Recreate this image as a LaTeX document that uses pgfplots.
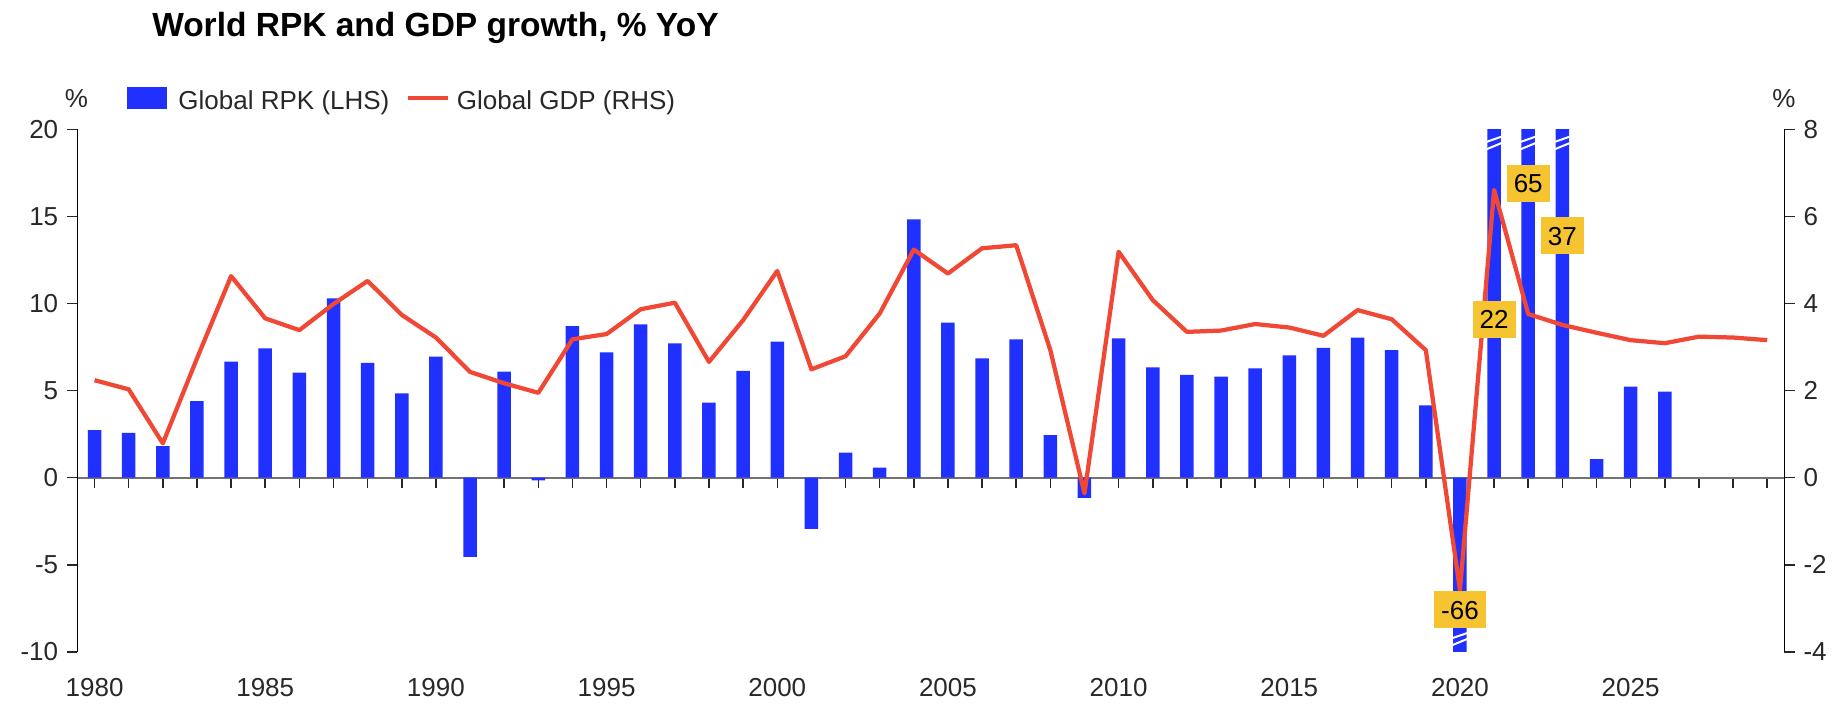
\documentclass[border=0pt]{standalone}
\usepackage{fontspec}
\setmainfont{Liberation Sans}
\usepackage{pgfplots}
\pgfplotsset{compat=1.18}
\usepackage{pgfplotstable}

\definecolor{rpkblue}{RGB}{32,48,255}
\definecolor{gdpred}{RGB}{240,72,52}
\definecolor{labyellow}{RGB}{246,196,48}
\definecolor{txt}{RGB}{40,40,40}

\newcommand{\fs}{\fontsize{10.4}{12.5}\selectfont}

% year, RPK growth (LHS, %), GDP growth (RHS, %)
\pgfplotstableread{
year rpk gdp
1980 2.74 2.24
1981 2.58 2.03
1982 1.82 0.79
1983 4.40 2.74
1984 6.66 4.63
1985 7.43 3.66
1986 6.03 3.39
1987 10.3 3.99
1988 6.60 4.52
1989 4.84 3.74
1990 6.95 3.22
1991 -4.55 2.43
1992 6.09 2.17
1993 -0.15 1.95
1994 8.71 3.18
1995 7.20 3.30
1996 8.80 3.87
1997 7.71 4.02
1998 4.31 2.66
1999 6.14 3.62
2000 7.81 4.75
2001 -2.94 2.49
2002 1.44 2.79
2003 0.58 3.77
2004 14.83 5.24
2005 8.90 4.69
2006 6.85 5.27
2007 7.94 5.34
2008 2.45 2.93
2009 -1.15 -0.36
2010 8.00 5.19
2011 6.34 4.08
2012 5.90 3.35
2013 5.80 3.38
2014 6.28 3.53
2015 7.03 3.45
2016 7.45 3.26
2017 8.04 3.85
2018 7.33 3.64
2019 4.15 2.93
2020 -66 -2.58
2021 22 6.61
2022 65 3.76
2023 37 3.51
2024 1.07 3.33
2025 5.23 3.16
2026 4.94 3.09
2027 nan 3.24
2028 nan 3.22
2029 nan 3.16
}\growth

\pgfplotsset{
  base/.style={
    scale only axis, width=682.7pt, height=209pt,
    xmin=1979.5, xmax=2029.5,
    tick label style={font=\fs, text=txt},
    /pgf/number format/1000 sep={},
    /pgf/number format/assume math mode=true,
    major tick length=4.2pt,
    tick style={line width=0.6pt, color=black!85},
    y axis line style={-, line width=0.6pt, black},
    ytick align=outside,
  },
}
\tikzset{
  labbox/.style={fill=labyellow, font=\fs, text=black, inner xsep=2.8pt,
    inner ysep=3.6pt, text height=7.5pt, text depth=0pt},
}

\begin{document}
\begin{tikzpicture}
  % --- bars, left axis ---
  \begin{axis}[base, name=ax,
    ymin=-10, ymax=20, ytick={-10,-5,...,20},
    axis y line*=left, axis x line*=middle,
    hide obscured x ticks=false, hide obscured y ticks=false,
    x axis line style={-, draw=black!55, line width=0.9pt},
    xtick={1980,1981,...,2029}, xticklabels={},
    xtick align=center, x tick style={yshift=-2.1pt},
    legend cell align=left,
    legend style={at={(axis description cs:0.02886,1.0567)}, anchor=west,
      draw=none, fill=none, inner sep=0pt, font=\fs, text=txt,
      legend columns=-1, nodes={inner sep=0pt},
      /tikz/column 1/.append style={column sep=4.5pt},
      /tikz/column 2/.append style={column sep=6.8pt},
      /tikz/column 3/.append style={column sep=2.8pt}},
  ]
    \addplot[ybar, bar width=5.4pt, fill=rpkblue, draw=none,
      legend image code/.code={\fill[rpkblue] (0pt,-2.8pt) rectangle (16pt,6pt);}]
      table[x=year, y=rpk] {\growth};
    \addlegendentry{Global RPK (LHS)}
    \addlegendimage{legend image code/.code={\draw[gdpred, line width=1.4pt] (0pt,1.5pt) -- (16pt,1.5pt);}}
    \addlegendentry{Global GDP (RHS)}

    % axis-break marks on the clipped bars
    \pgfplotsinvokeforeach{2021,2022,2023}{
      \draw[white, line width=0.8pt] (axis cs:#1-0.21,19.29) -- (axis cs:#1+0.21,19.58);
      \draw[white, line width=0.8pt] (axis cs:#1-0.21,18.87) -- (axis cs:#1+0.21,19.21);
    }
    \draw[white, line width=0.8pt] (axis cs:2019.79,-9.20) -- (axis cs:2020.21,-8.92);
    \draw[white, line width=0.8pt] (axis cs:2019.79,-9.60) -- (axis cs:2020.21,-9.26);
  \end{axis}

  % --- GDP line, right axis ---
  \begin{axis}[base,
    ymin=-4, ymax=8, ytick={-4,-2,...,8},
    axis y line*=right, axis x line*=bottom,
    x axis line style={draw=none},
    xtick={1980,1985,...,2025}, xtick style={draw=none},
    xticklabel style={yshift=-6.9pt},
  ]
    \addplot[gdpred, line width=1.7pt, line join=round, mark=none]
      table[x=year, y=gdp] {\growth};

    \node[labbox] at (axis cs:2022,6.76) {65};
    \node[labbox] at (axis cs:2023,5.56) {37};
    \node[labbox] at (axis cs:2021,3.64) {22};
    \node[labbox] at (axis cs:2020,-3.03) {-66};
  \end{axis}

  \node[anchor=base west, inner sep=0pt, font=\bfseries\fontsize{13.4}{16}\selectfont]
    at ([shift={(29.7pt,246.1pt)}]ax.south west) {World RPK and GDP growth, \% YoY};
  \node[anchor=base, inner sep=0pt, font=\fs, text=txt]
    at ([shift={(-0.4pt,217.6pt)}]ax.south west) {\%};
  \node[anchor=base, inner sep=0pt, font=\fs, text=txt]
    at ([shift={(682.6pt,217.6pt)}]ax.south west) {\%};

  \pgfresetboundingbox
  \path ([shift={(-31pt,-20.84pt)}]ax.south west) rectangle ++(734pt,281.6pt);
\end{tikzpicture}
\end{document}
